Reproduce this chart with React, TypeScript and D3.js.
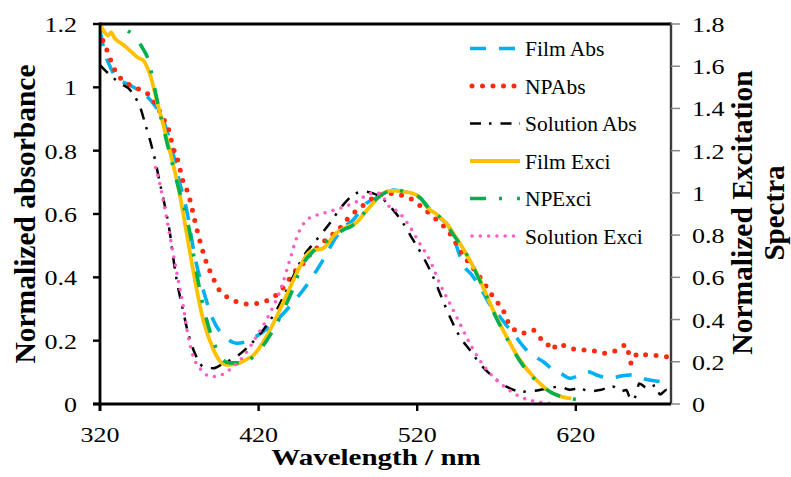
import React from 'react';
import * as d3 from 'd3';

const WIDTH = 791;
const HEIGHT = 477;

// Axis ticks
const X_TICKS = [320, 420, 520, 620];
const LEFT_TICKS = [0, 0.2, 0.4, 0.6, 0.8, 1, 1.2];
const RIGHT_TICKS = [0, 0.2, 0.4, 0.6, 0.8, 1, 1.2, 1.4, 1.6, 1.8];

// Absorbance spectra (left axis), [wavelength nm, normalized absorbance]
const filmAbs: [number, number][] = [
  [320, 1.18], [323.1, 1.108], [326.3, 1.066], [329, 1.04], [332.6, 1.023], [338.9, 1.007],
  [343, 0.995], [347.3, 0.986], [350, 0.97], [353.6, 0.949], [359.8, 0.897], [365.1, 0.813],
  [369.3, 0.718], [374.6, 0.613], [379.8, 0.465], [385.1, 0.36], [391.4, 0.265], [399.8, 0.208],
  [406.1, 0.192], [411, 0.195], [416.6, 0.208], [427.1, 0.245], [437.6, 0.297], [448.1, 0.36],
  [460.7, 0.455], [469.1, 0.529], [474, 0.56], [479.6, 0.581], [484, 0.61], [488, 0.634],
  [496.4, 0.655], [502.7, 0.671], [505, 0.676], [510, 0.672], [516, 0.665], [522, 0.65],
  [528, 0.615], [535, 0.585], [540, 0.56], [544.7, 0.5], [548.9, 0.44], [554, 0.41],
  [559.4, 0.371], [564, 0.33], [567.8, 0.297], [572, 0.276], [576, 0.25], [580.4, 0.224],
  [588.8, 0.171], [594, 0.15], [599.3, 0.134], [605.6, 0.108], [611, 0.095], [616.2, 0.081],
  [622, 0.09], [627.7, 0.102], [634, 0.09], [641.4, 0.081], [648, 0.088], [656, 0.092],
  [664, 0.078], [672.9, 0.071], [680, 0.064],
];

const npAbs: [number, number][] = [
  [320, 1.18], [322, 1.145], [325, 1.11], [327.4, 1.077], [330.5, 1.044], [335, 1.02],
  [341, 1.002], [347.3, 0.988], [351, 0.975], [353.6, 0.958], [356.7, 0.934], [359.8, 0.902],
  [363, 0.871], [366.1, 0.81], [369.3, 0.765], [372.5, 0.7], [375.6, 0.665], [378.8, 0.6],
  [380.9, 0.555], [384, 0.497], [386.2, 0.46], [391.4, 0.397], [394.5, 0.365], [399.8, 0.339],
  [406.1, 0.323], [412.4, 0.316], [419.8, 0.318], [426, 0.328], [432.4, 0.35], [437.6, 0.381],
  [441.8, 0.413], [448.1, 0.444], [452.3, 0.471], [457.6, 0.497], [464.9, 0.529], [470.1, 0.549],
  [475.4, 0.581], [479.6, 0.602], [483.8, 0.618], [490.1, 0.644], [496.4, 0.66], [502, 0.665],
  [508, 0.662], [512.2, 0.655], [517.4, 0.644], [523.7, 0.618], [530, 0.592], [540.5, 0.539],
  [548.9, 0.471], [559.4, 0.402], [563.6, 0.371], [567.8, 0.339], [575.2, 0.286], [578.3, 0.25],
  [586.7, 0.224], [593, 0.234], [597, 0.21], [601.4, 0.197], [604.6, 0.171], [609, 0.19],
  [616.2, 0.176], [624.5, 0.171], [631, 0.168], [637.1, 0.16], [643.4, 0.165], [651.8, 0.186],
  [655, 0.128], [659, 0.16], [664.4, 0.155], [670, 0.153], [680, 0.148],
];

const solutionAbs: [number, number][] = [
  [320, 1.07], [326.3, 1.039], [332.6, 1.013], [338.9, 0.992], [342, 0.97], [345.2, 0.939],
  [348.4, 0.886], [351.5, 0.834], [354.7, 0.771], [357.8, 0.697], [361, 0.623], [364.1, 0.539],
  [366.1, 0.465], [368.7, 0.381], [371.4, 0.318], [375.6, 0.223], [379.8, 0.16], [385.1, 0.118],
  [391.4, 0.113], [397.7, 0.128], [406.1, 0.15], [414.5, 0.186], [422.9, 0.234], [431.3, 0.297],
  [439.7, 0.381], [448.1, 0.465], [456.5, 0.518], [464.9, 0.571], [473.3, 0.629], [479.6, 0.66],
  [485.9, 0.671], [492.2, 0.665], [496.4, 0.655], [504.8, 0.613], [511.1, 0.571], [517.4, 0.518],
  [523.7, 0.465], [530, 0.402], [535.2, 0.339], [540.5, 0.276], [546.8, 0.213], [553.1, 0.171],
  [559.4, 0.128], [567.8, 0.086], [576.2, 0.055], [586.7, 0.039], [597.2, 0.044], [603, 0.05],
  [609.8, 0.055], [616, 0.045], [622.5, 0.05], [628, 0.04], [635.1, 0.044], [643.4, 0.055],
  [648, 0.04], [651.8, 0.044], [654, 0.02], [656, 0.013], [658, 0.03], [660, 0.065],
  [665, 0.05], [670.7, 0.06], [673, 0.03], [677, 0.044], [680, 0.04],
];

// Excitation spectra (right axis), [wavelength nm, normalized excitation]
const filmExci: [number, number][] = [
  [320, 1.8], [323, 1.76], [325, 1.745], [327, 1.76], [329, 1.735], [331, 1.72], [333, 1.71],
  [335, 1.7], [338, 1.68], [341, 1.66], [344, 1.64], [347, 1.63], [350, 1.59], [352, 1.55],
  [355.7, 1.44], [360, 1.32], [364, 1.2], [369.3, 1.03], [374.6, 0.81], [378.8, 0.63],
  [385, 0.4], [391.4, 0.26], [396, 0.2], [400, 0.185], [406, 0.19], [412, 0.21], [416.6, 0.23],
  [425, 0.32], [435.5, 0.48], [446, 0.65], [452, 0.72], [456, 0.73], [460, 0.735], [469, 0.81],
  [476, 0.84], [481.7, 0.86], [488, 0.915], [492, 0.95], [497, 0.99], [503, 1.01], [508, 1.01],
  [512, 1.005], [516, 1.0], [521.6, 0.98], [525, 0.945], [528, 0.92], [532, 0.9], [535, 0.88],
  [538, 0.86], [542.6, 0.81], [551, 0.71], [559.4, 0.59], [567.8, 0.445], [576.2, 0.32],
  [584.6, 0.21], [595, 0.115], [605.6, 0.05], [612, 0.033], [617.2, 0.027],
];

const npExci: [number, number][] = [
  [328, 1.88], [333.6, 1.79], [337, 1.77], [341, 1.75], [344, 1.72], [347.3, 1.68], [350, 1.64],
  [351.5, 1.6], [354.7, 1.485], [358.8, 1.345], [364, 1.185], [369.3, 1.03], [376.7, 0.81],
  [380.9, 0.62], [387.2, 0.4], [393.5, 0.26], [397, 0.21], [401.9, 0.195], [410.3, 0.195],
  [418.7, 0.24], [429.2, 0.35], [439.7, 0.51], [448.1, 0.665], [454, 0.72], [460.7, 0.76],
  [467, 0.79], [473.3, 0.825], [478, 0.84], [481.7, 0.86], [488, 0.92], [496.4, 0.985],
  [502.7, 1.01], [507, 1.015], [512, 1.005], [517, 0.995], [522, 0.975], [528, 0.92],
  [535, 0.88], [542, 0.81], [551, 0.71], [559.4, 0.585], [567.8, 0.44], [576.2, 0.315],
  [584.6, 0.205], [595, 0.11], [605.6, 0.05], [615, 0.028], [623.5, 0.02],
];

const solutionExci: [number, number][] = [
  [355, 1.12], [356.7, 1.077], [359.8, 0.966], [363, 0.84], [366.1, 0.714], [369.3, 0.588],
  [372.5, 0.462], [375.6, 0.32], [378.8, 0.225], [384, 0.16], [390.3, 0.129], [396.6, 0.138],
  [402.9, 0.17], [410.3, 0.225], [418.7, 0.32], [427.1, 0.429], [434.5, 0.556], [439.7, 0.683],
  [445, 0.808], [450.2, 0.871], [455, 0.89], [460.7, 0.903], [466, 0.915], [471.2, 0.927],
  [476, 0.94], [481.7, 0.958], [486, 0.98], [490.1, 0.997], [494, 1.0], [498.5, 0.983],
  [500.6, 0.951], [509, 0.903], [515.3, 0.84], [521.6, 0.76], [527.9, 0.682], [534.2, 0.571],
  [540.5, 0.477], [546.8, 0.382], [553.1, 0.288], [559.4, 0.208], [567.8, 0.129], [576.2, 0.075],
  [584.6, 0.035], [595.1, 0.012], [603.5, 0.003],
];

type Series = {
  name: string;
  data: [number, number][];
  axis: 'left' | 'right';
  color: string;
  width: number;
  dash: string;
  cap: 'round' | 'butt';
};

const SERIES: Series[] = [
  { name: 'Film Abs', data: filmAbs, axis: 'left', color: '#00B0F0', width: 3.6, dash: '16 13', cap: 'butt' },
  { name: 'NP Abs', data: npAbs, axis: 'left', color: '#FF2A10', width: 5, dash: '0 10.5', cap: 'round' },
  { name: 'Solution Abs', data: solutionAbs, axis: 'left', color: '#000000', width: 2.5, dash: '11 8 2.5 9', cap: 'butt' },
  { name: 'Film Exci', data: filmExci, axis: 'right', color: '#FFC000', width: 3.8, dash: 'none', cap: 'butt' },
  { name: 'NP Exci', data: npExci, axis: 'right', color: '#00B050', width: 3.6, dash: '16 13 3 15', cap: 'butt' },
  { name: 'Solution Exci', data: solutionExci, axis: 'right', color: '#FF5CC8', width: 3.6, dash: '0 8.3', cap: 'round' },
];

const PLOT = { left: 100, right: 671, top: 24, bottom: 404 };
const SERIF = '"Liberation Serif", "Times New Roman", serif';

export default function App() {
  const x = d3.scaleLinear().domain([320, 680]).range([PLOT.left, PLOT.right]);
  const yL = d3.scaleLinear().domain([0, 1.2]).range([PLOT.bottom, PLOT.top]);
  const yR = d3.scaleLinear().domain([0, 1.8]).range([PLOT.bottom, PLOT.top]);

  const pathFor = (s: Series) => {
    const y = s.axis === 'left' ? yL : yR;
    return d3
      .line<[number, number]>()
      .x((d) => x(d[0]))
      .y((d) => y(d[1]))
      .curve(d3.curveMonotoneX)(s.data) as string;
  };

  const fmt = (v: number) => String(+v.toFixed(1));

  const legendX = 470;
  const legendY0 = 48.5;
  const legendStep = 37.5;

  return (
    <svg
      width={WIDTH}
      height={HEIGHT}
      style={{ position: 'absolute', left: 0, top: 0, background: '#fff' }}
      fontFamily={SERIF}
    >
      <defs>
        <clipPath id="plot-area">
          <rect x={PLOT.left} y={PLOT.top} width={PLOT.right - PLOT.left} height={PLOT.bottom - PLOT.top} />
        </clipPath>
      </defs>
      <rect width={WIDTH} height={HEIGHT} fill="#fff" />

      {/* spectra */}
      <g clipPath="url(#plot-area)" fill="none">
        {SERIES.map((s) => (
          <path
            key={s.name}
            d={pathFor(s)}
            stroke={s.color}
            strokeWidth={s.width}
            strokeDasharray={s.dash}
            strokeLinecap={s.cap}
            strokeLinejoin="round"
          />
        ))}
      </g>

      {/* top frame */}
      <line x1={PLOT.left} x2={PLOT.right} y1={PLOT.top} y2={PLOT.top} stroke="#000" strokeWidth={2.8} />

      {/* right axis */}
      <line x1={PLOT.right} x2={PLOT.right} y1={PLOT.top - 1.4} y2={PLOT.bottom} stroke="#3a3a3a" strokeWidth={2.4} />
      {RIGHT_TICKS.map((t) => (
        <g key={'r' + t}>
          <line x1={PLOT.right} x2={PLOT.right + 9} y1={yR(t)} y2={yR(t)} stroke="#888" strokeWidth={1.5} />
          <text
            transform={`translate(${PLOT.right + 21},${yR(t) + 8}) scale(1,0.8)`}
            fontSize={26}
            fill="#000"
          >
            {fmt(t)}
          </text>
        </g>
      ))}

      {/* left axis */}
      <line x1={PLOT.left} x2={PLOT.left} y1={PLOT.top - 1.4} y2={PLOT.bottom + 7} stroke="#000" strokeWidth={2.8} />
      {LEFT_TICKS.map((t) => (
        <g key={'l' + t}>
          <line x1={PLOT.left - 7} x2={PLOT.left} y1={yL(t)} y2={yL(t)} stroke="#000" strokeWidth={2.4} />
          <text
            transform={`translate(${PLOT.left - 23},${yL(t) + 8}) scale(1,0.8)`}
            fontSize={26}
            textAnchor="end"
            fill="#000"
          >
            {fmt(t)}
          </text>
        </g>
      ))}

      {/* bottom axis */}
      <line x1={PLOT.left - 7} x2={PLOT.right} y1={PLOT.bottom} y2={PLOT.bottom} stroke="#000" strokeWidth={2.8} />
      {X_TICKS.map((t) => (
        <g key={'x' + t}>
          <line x1={x(t)} x2={x(t)} y1={PLOT.bottom} y2={PLOT.bottom + 7} stroke="#000" strokeWidth={2.4} />
          <text
            transform={`translate(${x(t)},442) scale(1,0.8)`}
            fontSize={26}
            textAnchor="middle"
            fill="#000"
          >
            {t}
          </text>
        </g>
      ))}

      {/* axis titles */}
      <text
        transform="translate(376,465) scale(1,0.8)"
        fontSize={29}
        fontWeight="bold"
        textAnchor="middle"
        fill="#000"
      >
        Wavelength / nm
      </text>
      <text
        transform="translate(35,214) rotate(-90)"
        fontSize={29.5}
        fontWeight="bold"
        textAnchor="middle"
        fill="#000"
      >
        Normalized absorbance
      </text>
      <text
        transform="translate(752,212.5) rotate(-90)"
        fontSize={29.5}
        fontWeight="bold"
        textAnchor="middle"
        fill="#000"
      >
        Normalized Excitation
      </text>
      <text
        transform="translate(784,213) rotate(-90)"
        fontSize={29}
        fontWeight="bold"
        textAnchor="middle"
        fill="#000"
      >
        Spectra
      </text>

      {/* legend */}
      {SERIES.map((s, i) => {
        const ly = legendY0 + i * legendStep;
        return (
          <g key={'lg' + s.name}>
            <line
              x1={legendX + (s.cap === 'round' ? 2 : 0)}
              x2={legendX + 50}
              y1={ly}
              y2={ly}
              stroke={s.color}
              strokeWidth={s.width}
              strokeDasharray={s.dash}
              strokeLinecap={s.cap}
            />
            <text
              x={legendX + 55}
              y={ly + 7.5}
              fontSize={21.5}
              wordSpacing={s.name.startsWith('NP') ? -5 : 0}
              fill="#000"
            >
              {s.name}
            </text>
          </g>
        );
      })}
    </svg>
  );
}
